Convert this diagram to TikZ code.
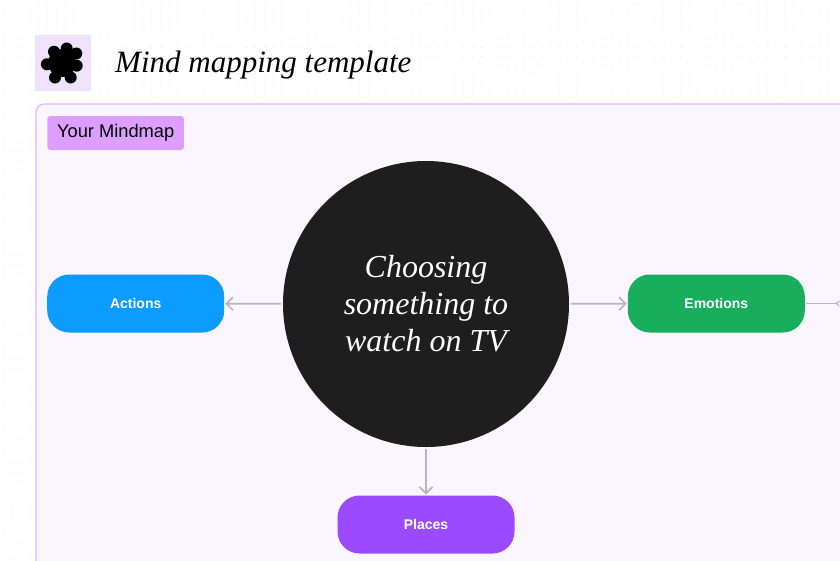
\documentclass[tikz,border=0pt]{standalone}
\usepackage{fontspec}
\setmainfont{Liberation Sans}
\newfontfamily\handfont{Liberation Serif}
\usetikzlibrary{arrows.meta}

\definecolor{panelfill}{HTML}{F9F6FF}
\definecolor{panelline}{HTML}{E3B4FF}
\definecolor{tagfill}{HTML}{DD9FFF}
\definecolor{iconfill}{HTML}{F0E2FD}
\definecolor{centerfill}{HTML}{1E1E1E}
\definecolor{actionsfill}{HTML}{0C9BFF}
\definecolor{emotionsfill}{HTML}{17AE5E}
\definecolor{placesfill}{HTML}{9B4AFF}
\definecolor{linkgray}{HTML}{B8B6BC}
\definecolor{griddot}{HTML}{E4E4E4}

\begin{document}
\begin{tikzpicture}[x=1pt,y=-1pt,
  topic/.style={rounded corners=22pt,minimum width=177pt,minimum height=58pt,inner sep=0pt,
    outer sep=0pt,text=white,font=\fontsize{14}{16}\selectfont\bfseries},
  link/.style={draw=linkgray,line width=1.7pt,shorten <=2pt,shorten >=1pt,
    -{Straight Barb[length=6.5pt,width=13pt,line width=1.7pt]}}]

  \useasboundingbox (0,0) rectangle (840,560);
  \clip (0,0) rectangle (840,560);

  % dotted board
  \foreach \i in {0,...,96}
    \foreach \j in {0,...,64}
      \fill [griddot] (4.3+8.67*\i,4.3+8.67*\j) circle (0.6pt);

  % header
  \node [fill=iconfill,minimum size=56pt,inner sep=0pt,outer sep=0pt] (icon) at (63,63) {};
  \fill [black] (62,63) circle (14pt);
  \foreach \px/\py in {66.7/48.5,76.3/53.5,76.7/65.7,70.7/77.5,55/77.5,46.9/64.3,54/51.7}
    \fill [black] (\px,\py) circle (6pt);
  \node [anchor=west,inner sep=0pt,font=\handfont\itshape\fontsize{31}{34}\selectfont] (title) at (115,65)
    {Mind mapping template};

  % panel
  \draw [draw=panelline,fill=panelfill,line width=1.2pt,rounded corners=8pt]
    (36,104) rectangle (880,600);
  \node [fill=tagfill,rounded corners=3pt,minimum width=136.5pt,minimum height=34pt,inner sep=0pt,
    font=\fontsize{18.3}{20}\selectfont] (tag) at (115.7,133) {Your Mindmap};

  \node [circle,fill=centerfill,minimum size=286pt,inner sep=0pt,outer sep=0pt,align=center,text=white,
    font=\handfont\itshape\fontsize{32}{37}\selectfont] (center) at (426,304)
    {Choosing\\something to\\watch on TV};

  \node [topic,fill=actionsfill] (actions) at (135.7,303.5) {Actions};
  \node [topic,fill=emotionsfill] (emotions) at (716.3,303.5) {Emotions};
  \node [topic,fill=placesfill] (places) at (426,524.5) {Places};
  \coordinate (offpage) at (840,303.5);

  \draw [link] (center) -- (actions);
  \draw [link] (center) -- (emotions);
  \draw [link] (center) -- (places);
  \draw [draw=linkgray,line width=1.7pt,shorten <=1pt,
    -{Straight Barb[reversed,length=3pt,width=5pt,line width=1.2pt]}] (emotions) -- (offpage);
\end{tikzpicture}
\end{document}
